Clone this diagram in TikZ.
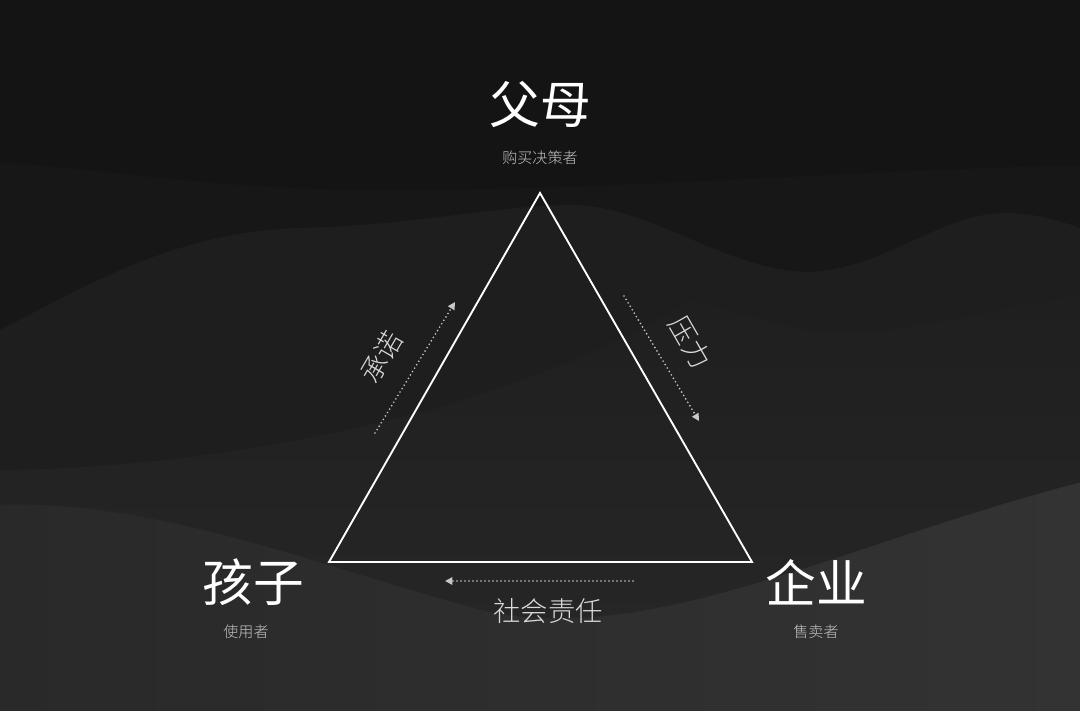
\documentclass[tikz,border=0pt]{standalone}
\usepackage{fontspec}
\newfontfamily\cjk{Noto Sans CJK SC}
\IfFontExistsTF{Noto Sans CJK SC Light}
  {\newfontfamily\cjklight{Noto Sans CJK SC Light}}
  {\newfontfamily\cjklight{Noto Sans CJK SC}}
\usetikzlibrary{arrows.meta}
\definecolor{bgA}{HTML}{141414}
\definecolor{bgB}{HTML}{171717}
\definecolor{bgC}{HTML}{1E1E1E}
\definecolor{bgD1}{HTML}{1F1F1F}
\definecolor{bgD2}{HTML}{282828}
\definecolor{bgE1}{HTML}{292929}
\definecolor{bgE2}{HTML}{333333}
\definecolor{subgrey}{HTML}{C4C4C4}
\definecolor{relgrey}{HTML}{DADADA}
\definecolor{dotgrey}{HTML}{C8C8C8}
\begin{document}
\begin{tikzpicture}[x=0.75pt,y=-0.75pt,
  big/.style={text=white, font=\cjk\fontsize{38}{40}\selectfont, inner sep=0pt},
  sub/.style={text=subgrey, font=\cjklight\fontsize{11.3}{13}\selectfont, inner sep=0pt},
  rel/.style={text=relgrey, font=\cjklight\fontsize{20.5}{22}\selectfont, inner sep=0pt},
  edgeline/.style={draw=white, line width=1.4pt, line join=miter},
  flow/.style={draw=dotgrey, line width=1.4pt, line cap=round, dash pattern=on 0pt off 3pt,
    -{Triangle[length=5.5pt,width=5.5pt]}}]
\useasboundingbox (0,0) rectangle (1080,710);
% background
\fill[bgA] (-10,-10) rectangle (1090,720);
\fill[bgB] (-10,163) -- (0,163) .. controls (100,168) and (200,188) .. (360,190)
  .. controls (600,192) and (850,170) .. (1090,165) -- (1090,720) -- (-10,720) -- cycle;
\fill[bgC] (-10,335) -- (0,330) .. controls (80,290) and (170,232) .. (300,228)
  .. controls (420,225) and (490,206) .. (570,205)
  .. controls (650,205) and (720,268) .. (805,272)
  .. controls (880,272) and (940,213) .. (1005,213)
  .. controls (1040,213) and (1070,224) .. (1090,232) -- (1090,720) -- (-10,720) -- cycle;
\shade[top color=bgD1, bottom color=bgD2] (690,300) .. controls (760,318) and (810,338) .. (870,332)
  .. controls (960,322) and (1030,300) .. (1090,295) -- (1090,720) -- (-10,720) -- (-10,470)
  .. controls (200,470) and (500,420) .. (690,300) -- cycle;
\shade[left color=bgE1, right color=bgE2] (-10,505) .. controls (150,498) and (300,560) .. (480,610)
  .. controls (650,650) and (850,540) .. (1090,480) -- (1090,720) -- (-10,720) -- cycle;
% triangle
\coordinate (P) at (540,193);
\coordinate (C) at (329,562);
\coordinate (E) at (752,562);
\draw[edgeline] (P) -- (C) -- (E) -- cycle;
% labels
\node[big] (parent) at (540,104) {父母};
\node[sub] (parentsub) at (540,158) {购买决策者};
\node[big] (child) at (253,582) {孩子};
\node[sub] (childsub) at (246,632) {使用者};
\node[big] (firm) at (816,582) {企业};
\node[sub] (firmsub) at (816,632) {售卖者};
\node[rel] (social) at (548,611) {社会责任};
\node[rel, rotate=60] (promise) at (381,357) {承诺};
\node[rel, rotate=-60] (pressure) at (690,342) {压力};
% flows
\coordinate (l1) at (375,433);
\coordinate (l2) at (455,302);
\coordinate (r1) at (624,296);
\coordinate (r2) at (699,421);
\coordinate (b1) at (633,581);
\coordinate (b2) at (445,581);
\draw[flow] (l1) -- (l2);
\draw[flow] (r1) -- (r2);
\draw[flow] (b1) -- (b2);
\end{tikzpicture}
\end{document}
